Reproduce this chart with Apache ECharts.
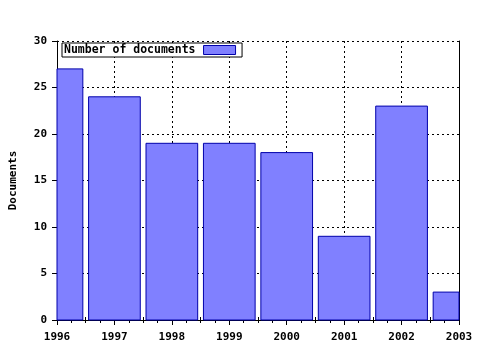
<!DOCTYPE html>
<html><head><meta charset="utf-8">
<script src="https://cdn.jsdelivr.net/npm/echarts@6/dist/echarts.min.js"></script>
<style>html,body{margin:0;padding:0;background:#fff}#c{width:480px;height:350px}</style>
</head><body><div id="c"></div>
<script>
var years = [1996, 1997, 1998, 1999, 2000, 2001, 2002, 2003];
var documents = [27, 24, 19, 19, 18, 9, 23, 3];
var seriesName = 'Number of documents';
var yName = 'Documents';

var font = 'DejaVu Sans Mono';
var chart = echarts.init(document.getElementById('c'), null, {renderer: 'canvas'});
var dotted = {color: '#000', width: 1, type: [2, 3]};
var txt = {fontFamily: font, fontWeight: 'bold', fontSize: 11, color: '#000'};
var barFill = '#8080ff', barEdge = '#0000aa';

function renderBar(params, api) {
  var x = api.value(0), v = api.value(1);
  var top = api.coord([x, v]);
  var base = api.coord([x, 0]);
  var w = api.size([1, 0])[0] * 0.9;
  var rect = echarts.graphic.clipRectByRect(
    {x: top[0] - w / 2, y: top[1], width: w, height: base[1] - top[1]},
    {x: params.coordSys.x, y: params.coordSys.y, width: params.coordSys.width, height: params.coordSys.height}
  );
  if (!rect) return null;
  return {type: 'rect', shape: rect, style: {fill: barFill, stroke: barEdge, lineWidth: 1}};
}

chart.setOption({
  animation: false,
  backgroundColor: '#fff',
  grid: {left: 57, right: 21, top: 41, bottom: 30, show: false},
  legend: {
    show: true, left: 62, top: 43, orient: 'horizontal', align: 'right',
    padding: [1, 6, 1, 2], borderColor: '#000', borderWidth: 1, backgroundColor: '#fff',
    itemWidth: 32, itemHeight: 9, borderRadius: 0,
    textStyle: Object.assign({lineHeight: 12, padding: [0, 3, 0, 0]}, txt, {fontSize: 11.5}),
    data: [{name: seriesName, icon: 'rect', itemStyle: {color: barFill, borderColor: barEdge, borderWidth: 1}}]
  },
  xAxis: [{
    type: 'value', min: years[0], max: years[years.length - 1], interval: 1,
    axisLine: {show: true, lineStyle: {color: '#000', width: 1}},
    axisTick: {show: true, length: 5, lineStyle: {color: '#000'}},
    minorTick: {show: true, splitNumber: 4, length: 3, lineStyle: {color: '#000'}},
    axisLabel: Object.assign({margin: 12, formatter: function (v) { return String(v); }}, txt),
    splitLine: {show: true, lineStyle: dotted}
  }, {
    type: 'value', position: 'top', min: years[0], max: years[years.length - 1], interval: 1,
    axisLine: {show: true, lineStyle: {color: '#000', width: 1}},
    axisTick: {show: true, length: 4, lineStyle: {color: '#000'}},
    minorTick: {show: true, splitNumber: 4, length: 3, lineStyle: {color: '#000'}},
    axisLabel: {show: false}, splitLine: {show: false}
  }],
  yAxis: [{
    type: 'value', min: 0, max: 30, interval: 5,
    name: yName, nameLocation: 'middle', nameGap: 38, nameRotate: 90,
    nameTextStyle: txt,
    axisLine: {show: true, lineStyle: {color: '#000', width: 1}},
    axisTick: {show: true, length: 5, lineStyle: {color: '#000'}},
    axisLabel: Object.assign({margin: 10}, txt),
    splitLine: {show: true, lineStyle: dotted}
  }, {
    type: 'value', position: 'right', min: 0, max: 30, interval: 5,
    axisLine: {show: true, lineStyle: {color: '#000', width: 1}},
    axisTick: {show: false}, axisLabel: {show: false}, splitLine: {show: false}
  }],
  series: [{
    name: seriesName, type: 'custom', xAxisIndex: 0, yAxisIndex: 0,
    renderItem: renderBar,
    itemStyle: {color: barFill, borderColor: barEdge, borderWidth: 1},
    encode: {x: 0, y: 1},
    data: years.map(function (y, i) { return [y, documents[i]]; })
  }]
});
</script></body></html>
